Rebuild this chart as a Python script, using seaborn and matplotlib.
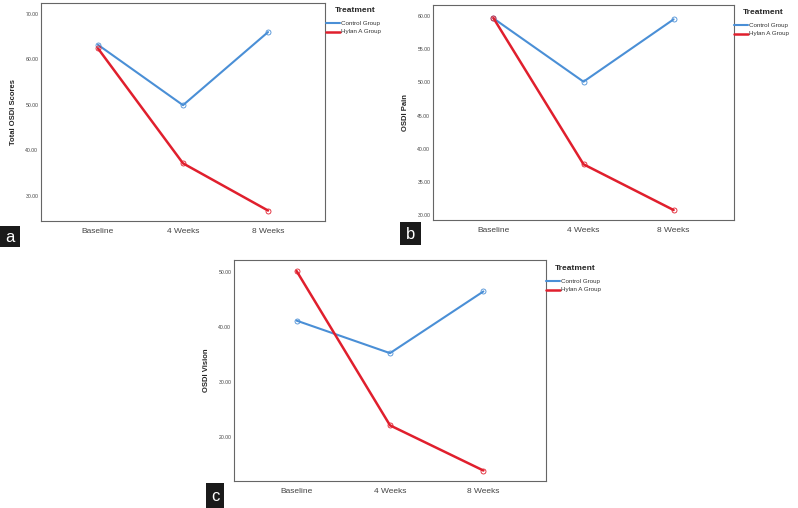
import pandas as pd
import numpy as np
import matplotlib
matplotlib.use('Agg')
import matplotlib.pyplot as plt
from matplotlib.patches import Rectangle
import seaborn as sns

# ---- data ----
timepoints = ['Baseline', '4 Weeks', '8 Weeks']
groups = ['Control Group', 'Hylan A Group']

total_control = [63.2, 49.9, 66.0]
total_hylan = [62.4, 37.1, 26.7]
pain_control = [59.65, 50.1, 59.5]
pain_hylan = [59.7, 37.65, 30.75]
vision_control = [41.1, 35.2, 46.4]
vision_hylan = [50.1, 22.1, 13.9]

ylabels = ['Total OSDI Scores', 'OSDI Pain', 'OSDI Vision']
yticks_list = [[30, 40, 50, 60, 70], [30, 35, 40, 45, 50, 55, 60], [20, 30, 40, 50]]
ylims = [(24.4, 72.4), (29.25, 61.66), (12.0, 52.1)]
letters = ['a', 'b', 'c']

palette = {'Control Group': '#4a8fd6', 'Hylan A Group': '#e01f2d'}
widths = {'Control Group': 1.5, 'Hylan A Group': 1.8}

sns.set_style('white')
plt.rcParams['font.family'] = ['Liberation Sans', 'DejaVu Sans']

W, H = 798, 508
fig = plt.figure(figsize=(W / 100, H / 100), dpi=100)

# axes boxes in pixels: left, top, right, bottom
boxes = [(41, 3, 325, 221), (433, 5, 734, 220), (234, 260, 546, 481)]
# legend anchor (pixels)
legend_pos = [(326, 4), (734, 6), (546, 262)]
# letter boxes in pixels: left, top, right, bottom
letter_boxes = [(0, 226, 20, 247), (400, 222, 421, 245), (206, 483, 224, 508)]

datasets = [(total_control, total_hylan), (pain_control, pain_hylan), (vision_control, vision_hylan)]


def make_df(ctrl, hyl):
    rows = []
    for t, c, h in zip(timepoints, ctrl, hyl):
        rows.append({'Time': t, 'Treatment': 'Control Group', 'Score': c})
        rows.append({'Time': t, 'Treatment': 'Hylan A Group', 'Score': h})
    return pd.DataFrame(rows)


for i, (ctrl, hyl) in enumerate(datasets):
    l, t, r, b = boxes[i]
    ax = fig.add_axes([l / W, 1 - b / H, (r - l) / W, (b - t) / H])
    df = make_df(ctrl, hyl)
    df['x'] = df['Time'].map({k: j for j, k in enumerate(timepoints)})
    sns.lineplot(data=df, x='x', y='Score', hue='Treatment', palette=palette,
                 hue_order=groups, marker='o', markersize=3.6, lw=1.6, ax=ax, legend=False)
    # open circle markers in the line colour
    for ln, g in zip(ax.lines, groups):
        ln.set_markerfacecolor('none')
        ln.set_markeredgecolor(ln.get_color())
        ln.set_markeredgewidth(0.6)
        ln.set_linewidth(widths[g])
    ax.set_xlim(-0.67, 2.67)
    ax.set_ylim(*ylims[i])
    ax.set_xticks(range(len(timepoints)))
    ax.set_xticklabels(timepoints, fontsize=6, color='#444444')
    ax.set_yticks(yticks_list[i])
    ax.set_yticklabels([f'{v:.2f}' for v in yticks_list[i]], fontsize=3.7, color='#444444')
    ax.tick_params(length=0, pad=2)
    ax.tick_params(axis='x', pad=5)
    ax.set_xlabel('')
    ax.set_ylabel(ylabels[i], fontsize=5.5, fontweight='bold', labelpad=6)
    for s in ax.spines.values():
        s.set_color('#666666')
        s.set_linewidth(0.8)

    # legend drawn as lines + text to the right of the axes
    lx, ly = legend_pos[i]
    fig.text((lx + 9) / W, 1 - (ly + 7) / H, 'Treatment', fontsize=6, fontweight='bold',
             ha='left', va='center')
    for k, g in enumerate(groups):
        yy = 1 - (ly + 19 + 9 * k) / H
        fig.add_artist(plt.Line2D([lx / W, (lx + 14) / W], [yy, yy], color=palette[g],
                                  lw=widths[g], transform=fig.transFigure))
        fig.text((lx + 15) / W, yy, g, fontsize=4.5, color='#333333', ha='left', va='center')

    bl, bt, br, bb = letter_boxes[i]
    fig.add_artist(Rectangle((bl / W, 1 - bb / H), (br - bl) / W, (bb - bt) / H,
                             transform=fig.transFigure, fc='#1a1a1a', ec='none'))
    fig.text((bl + br) / 2 / W, 1 - (bt + bb) / 2 / H - 0.002, letters[i], fontsize=12,
             color='white', ha='center', va='center')

fig.savefig('out.png', dpi=100)
